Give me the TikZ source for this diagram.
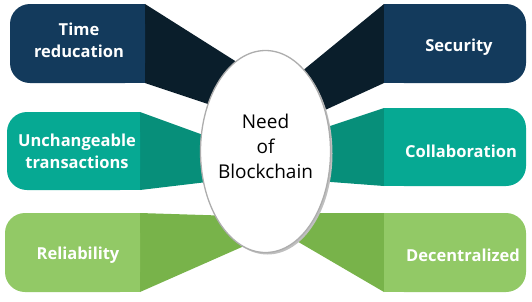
\documentclass[tikz,border=0pt]{standalone}
\usepackage{fontspec}
\setmainfont{Open Sans}
\begin{document}
\begin{tikzpicture}[x=1pt,y=-1pt,
  navy/.style={fill={rgb,255:red,19;green,58;blue,92}},
  navyd/.style={fill={rgb,255:red,10;green,30;blue,43}},
  teal/.style={fill={rgb,255:red,6;green,169;blue,147}},
  teald/.style={fill={rgb,255:red,7;green,143;blue,122}},
  lgreen/.style={fill={rgb,255:red,146;green,201;blue,102}},
  lgreend/.style={fill={rgb,255:red,120;green,179;blue,74}},
  lbl/.style={text=white,font=\bfseries\fontsize{16.5}{22}\selectfont,align=center},
  ctr/.style={text=black,font=\fontsize{19}{25}\selectfont,align=center}]
\useasboundingbox (0,0) rectangle (532,301);
% connectors (trapezoids)
\path[navyd] (145,4) -- (251,71) -- (265,151) -- (223,109) -- (145,83) -- cycle;
\path[teald] (140,112) -- (217,140) -- (224,180) -- (140,190) -- cycle;
\path[lgreend] (140,213) -- (235,216) -- (260,239) -- (140,292) -- cycle;
\path[navyd] (384,4) -- (290,81) -- (312,116) -- (384,83) -- cycle;
\path[teald] (384,108) -- (318,130) -- (318,181) -- (384,186) -- cycle;
\path[lgreend] (384,213) -- (305,213) -- (283,233) -- (384,292) -- cycle;
% boxes
\path[navy,rounded corners=20pt] (10,4) rectangle (145,83);
\path[navy] (100,4) rectangle (145,83);
\path[teal,rounded corners=20pt] (7,112) rectangle (140,190);
\path[teal] (100,112) rectangle (140,190);
\path[lgreen,rounded corners=20pt] (5,213) rectangle (140,292);
\path[lgreen] (100,213) rectangle (140,292);
\path[navy,rounded corners=20pt] (384,4) rectangle (526,83);
\path[navy] (384,4) rectangle (430,83);
\path[teal,rounded corners=20pt] (384,108) rectangle (526,186);
\path[teal] (384,108) rectangle (430,186);
\path[lgreen,rounded corners=20pt] (384,213) rectangle (526,292);
\path[lgreen] (384,213) rectangle (430,292);
% labels
\node[lbl] (t1) at (79,40) {Time\\reducation};
\node[lbl] (t2) at (77,151) {Unchangeable\\transactions};
\node[lbl] (t3) at (78,255.5) {Reliability};
\node[lbl] (t4) at (459,47.5) {Security};
\node[lbl] (t5) at (461,151) {Collaboration};
\node[lbl] (t6) at (463,255) {Decentralized};
% center ellipse
\fill[black!25] (267.5,153.5) ellipse [x radius=65pt, y radius=101pt];
\draw[fill=white,draw=black!32,line width=1.3pt] (265.5,151.5) ellipse [x radius=65pt, y radius=101pt];
\node[ctr] (c) at (265.5,146) {Need\\of\\Blockchain};
\end{tikzpicture}
\end{document}
